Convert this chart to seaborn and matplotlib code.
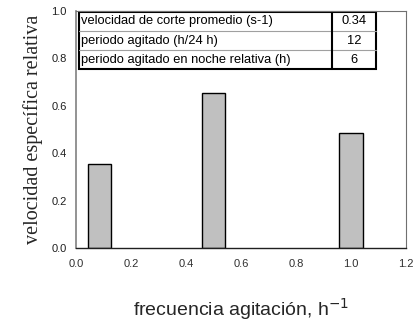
import matplotlib
matplotlib.use("Agg")
import matplotlib.pyplot as plt
import seaborn as sns
import pandas as pd
import numpy as np
from matplotlib.patches import Rectangle

freq = [1/12, 0.5, 1.0]
vel = [0.355, 0.652, 0.486]
x_ticks = [0.0, 0.2, 0.4, 0.6, 0.8, 1.0, 1.2]
y_ticks = [0.0, 0.2, 0.4, 0.6, 0.8, 1.0]
table_labels = ["velocidad de corte promedio (s-1)", "periodo agitado (h/24 h)",
                "periodo agitado en noche relativa (h)"]
table_values = ["0.34", "12", "6"]

sns.set_theme(style="white")
plt.rcParams['font.family'] = ['Liberation Sans', 'DejaVu Sans']
plt.rcParams['mathtext.fontset'] = 'custom'
plt.rcParams['mathtext.rm'] = 'Liberation Sans'
plt.rcParams['mathtext.it'] = 'Liberation Sans'
plt.rcParams['mathtext.default'] = 'regular'

fig = plt.figure(figsize=(4.16, 3.22), dpi=100)
ax = fig.add_axes([0.1834, 0.2298, 0.7926, 0.7360])

df = pd.DataFrame({"freq": freq, "vel": vel})
bar_w = 0.085
gap = np.min(np.diff(sorted(freq)))
sns.barplot(data=df, x="freq", y="vel", native_scale=True, width=bar_w / gap,
            color="#C0C0C0", saturation=1, edgecolor="black", linewidth=1.0, ax=ax)

ax.set_xlim(0, 1.2)
ax.set_ylim(0, 1.0)
ax.set_xticks(x_ticks)
ax.set_xticklabels([f"{t:.1f}" for t in x_ticks], fontsize=8)
ax.set_yticks(y_ticks)
ax.set_yticklabels([f"{t:.1f}" for t in y_ticks], fontsize=8)
ax.tick_params(axis="both", direction="out", length=4, width=0.8, colors="#202020", pad=3)
ax.tick_params(axis="x", colors="#303030", length=5)

for s in ["top", "right"]:
    ax.spines[s].set_color("#707070")
    ax.spines[s].set_linewidth(0.8)
ax.spines["left"].set_color("#808080")
ax.spines["left"].set_linewidth(1.2)
ax.spines["bottom"].set_color("#202020")
ax.spines["bottom"].set_linewidth(1.0)

ax.set_xlabel("frecuencia agitación, h$^{\\mathsf{-1}}$", fontsize=14, labelpad=20)
ax.set_ylabel("velocidad específica relativa", fontsize=14.5, family=["Liberation Serif"], labelpad=6)

# table
x0, x1, xm = 0.007, 0.910, 0.777
y_top, y_bot = 0.997, 0.754
n = len(table_labels)
rh = (y_top - y_bot) / n
for i, (lab, val) in enumerate(zip(table_labels, table_values)):
    yc = y_top - (i + 0.5) * rh
    ax.text(x0 + 0.006, yc, lab, transform=ax.transAxes, fontsize=9.3,
            va="center", ha="left", color="black")
    ax.text((xm + x1) / 2, yc, val, transform=ax.transAxes, fontsize=9.3,
            va="center", ha="center", color="black")
    if i > 0:
        yl = y_top - i * rh
        ax.plot([x0, x1], [yl, yl], transform=ax.transAxes, color="#A0A0A0", lw=0.8,
                clip_on=False)
ax.add_patch(Rectangle((x0, y_bot), x1 - x0, y_top - y_bot, transform=ax.transAxes,
                       fill=False, edgecolor="black", lw=1.5, clip_on=False))
ax.plot([xm, xm], [y_bot, y_top], transform=ax.transAxes, color="black", lw=1.5)

fig.savefig("out.png", dpi=100)
